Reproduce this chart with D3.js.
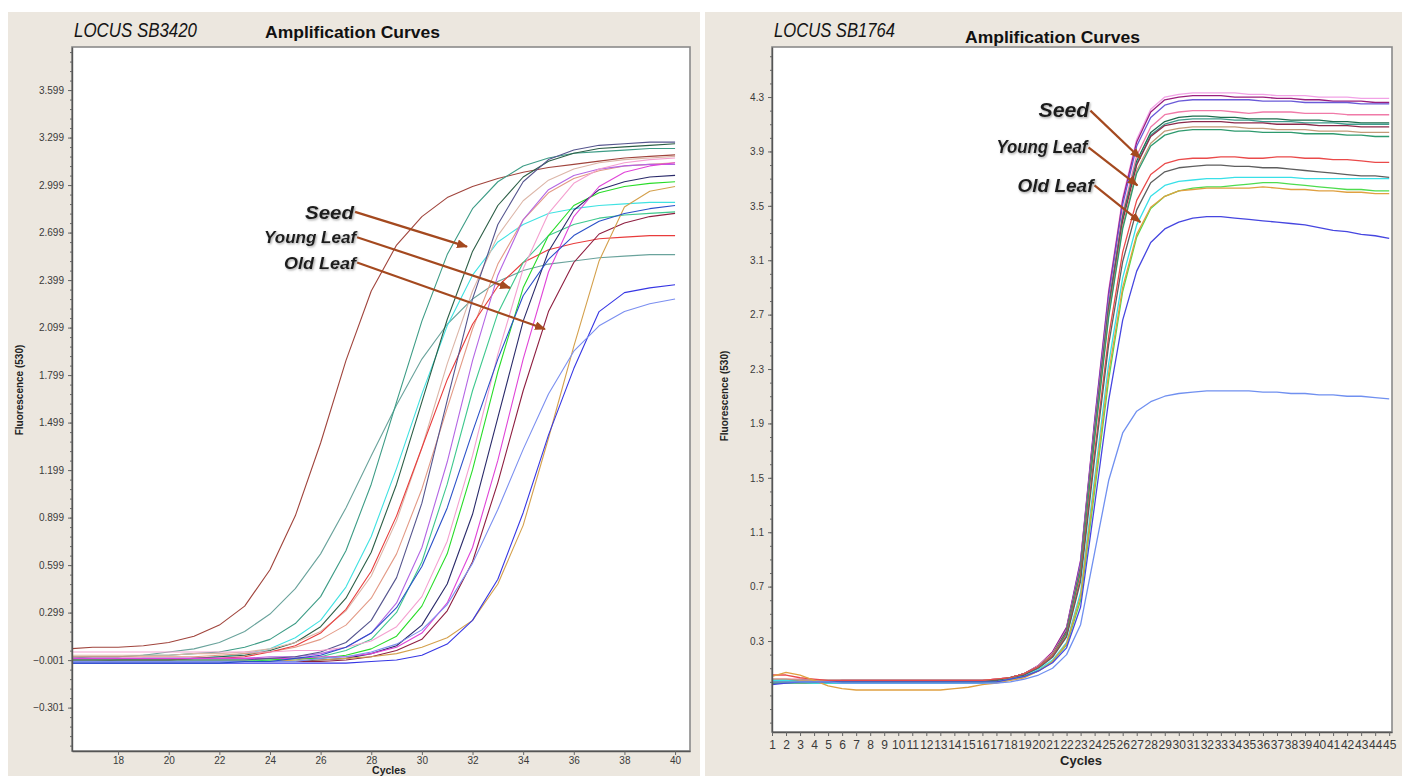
<!DOCTYPE html>
<html>
<head>
<meta charset="utf-8">
<script src="https://cdn.jsdelivr.net/npm/d3@7/dist/d3.min.js"></script>
<style>
  html, body { margin: 0; padding: 0; background: #ffffff; }
  svg { display: block; }
</style>
</head>
<body>
<svg id="chart" width="1402" height="776"></svg>
<script>
// ---------------------------------------------------------------
// Locus SB3420 – fluorescence (530) per cycle, cycles 16..40
// ---------------------------------------------------------------
const cyclesA = d3.range(16, 41);
const sb3420_01 = [.07,.08,.08,.09,.11,.15,.22,.34,.57,.91,1.37,1.89,2.33,2.62,2.80,2.92,2.99,3.04,3.08,3.11,3.13,3.15,3.17,3.18,3.19];
const sb3420_02 = [.01,.02,.02,.03,.05,.07,.11,.18,.29,.45,.67,.96,1.29,1.61,1.90,2.12,2.28,2.39,2.46,2.50,2.52,2.54,2.55,2.56,2.56];
const sb3420_03 = [.02,.02,.02,.03,.03,.04,.05,.08,.13,.23,.40,.69,1.11,1.63,2.14,2.56,2.85,3.02,3.12,3.17,3.20,3.21,3.22,3.23,3.23];
const sb3420_04 = [0,0,0,.01,.01,.01,.02,.04,.07,.14,.25,.46,.78,1.21,1.68,2.11,2.43,2.64,2.75,2.82,2.85,2.87,2.88,2.89,2.89];
const sb3420_05 = [-.01,-.01,0,0,0,.01,.02,.03,.06,.11,.21,.39,.68,1.11,1.63,2.15,2.58,2.87,3.05,3.15,3.20,3.23,3.24,3.25,3.26];
const sb3420_06 = [.03,.03,.03,.03,.03,.04,.04,.05,.07,.11,.18,.31,.53,.88,1.34,1.87,2.33,2.68,2.90,3.03,3.10,3.14,3.16,3.17,3.18];
const sb3420_07 = [.02,.02,.02,.02,.02,.02,.03,.04,.05,.08,.13,.22,.39,.67,1.08,1.59,2.09,2.50,2.78,2.95,3.04,3.09,3.12,3.13,3.14];
const sb3420_08 = [0,0,0,0,0,.01,.01,.02,.05,.09,.17,.32,.56,.91,1.34,1.77,2.12,2.36,2.51,2.59,2.63,2.66,2.67,2.68,2.68];
const sb3420_09 = [.01,.01,.01,.01,.01,.01,.01,.01,.02,.02,.04,.08,.17,.36,.71,1.25,1.89,2.43,2.78,2.97,3.06,3.10,3.12,3.13,3.13];
const sb3420_10 = [-.01,-.01,-.01,-.01,-.01,-.01,-.01,-.01,0,0,.02,.06,.13,.30,.62,1.11,1.70,2.19,2.51,2.68,2.75,2.79,2.81,2.82,2.83];
const sb3420_11 = [0,0,0,0,0,0,0,0,0,.01,.01,.03,.07,.15,.34,.67,1.20,1.82,2.35,2.68,2.87,2.95,2.99,3.01,3.02];
const sb3420_12 = [-.01,-.01,-.01,-.01,-.01,-.01,-.01,-.01,-.01,-.01,0,.01,.04,.09,.22,.48,.92,1.53,2.14,2.58,2.84,2.97,3.02,3.05,3.06];
const sb3420_13 = [.01,.01,.01,.01,.01,.01,.01,.01,.01,.01,.02,.02,.04,.08,.17,.36,.71,1.26,1.90,2.45,2.80,2.99,3.08,3.12,3.14];
const sb3420_14 = [-.01,-.01,-.01,-.01,-.01,-.01,-.01,-.01,-.01,-.01,-.01,0,.02,.06,.13,.31,.62,1.12,1.70,2.20,2.51,2.69,2.76,2.80,2.82];
const sb3420_15 = [-.01,-.01,-.01,-.01,-.01,-.01,-.01,-.01,-.01,0,0,.01,.02,.04,.08,.14,.25,.48,.85,1.40,1.98,2.52,2.86,2.96,2.99];
const sb3420_16 = [-.02,-.02,-.02,-.02,-.02,-.02,-.02,-.02,-.02,-.02,-.02,-.02,-.01,0,.03,.10,.25,.51,.93,1.42,1.84,2.20,2.32,2.35,2.37];
const sb3420_17 = [-.01,-.01,-.01,-.01,-.01,-.01,-.01,-.01,-.01,-.01,.01,.02,.05,.10,.19,.35,.61,.95,1.33,1.68,1.95,2.11,2.20,2.25,2.28];
const sb3420_18 = [0,0,0,0,0,0,0,0,.01,.02,.05,.11,.25,.52,.99,1.64,2.28,2.75,3.02,3.16,3.22,3.25,3.26,3.27,3.27];
const sb3420_19 = [.05,.05,.05,.05,.05,.05,.05,.05,.05,.06,.06,.08,.12,.21,.40,.75,1.29,1.93,2.47,2.82,3.01,3.10,3.14,3.16,3.17];
const sb3420_20 = [-.02,-.02,-.02,-.02,-.02,-.02,-.02,-.01,-.01,.01,.03,.08,.17,.33,.59,.96,1.44,1.90,2.30,2.53,2.68,2.77,2.82,2.85,2.87];

const seriesA = [sb3420_01, sb3420_02, sb3420_03, sb3420_04, sb3420_05, sb3420_06, sb3420_07,
                 sb3420_08, sb3420_09, sb3420_10, sb3420_11, sb3420_12, sb3420_13, sb3420_14,
                 sb3420_15, sb3420_16, sb3420_17, sb3420_18, sb3420_19, sb3420_20];
const coloursA = ["#a0443c", "#6aa39c", "#3d9c86", "#40e2e2", "#2c5e46", "#dcb6a8", "#e39a86",
                  "#e83c3c", "#b466e4", "#3ec88e", "#28dc28", "#2a2a6a", "#e044d8", "#8e1e40",
                  "#d4a04c", "#3636e4", "#7b8ff0", "#55558e", "#f4a0d0", "#2a50c8"];

const xTicksA = [18, 20, 22, 24, 26, 28, 30, 32, 34, 36, 38, 40];
const yTicksA = [-0.301, -0.001, 0.299, 0.599, 0.899, 1.199, 1.499, 1.799, 2.099, 2.399, 2.699, 2.999, 3.299, 3.599];

const notesA = ["Seed", "Young Leaf", "Old Leaf"];
const notesAFrom = [[27.36, 2.83], [27.44, 2.67], [27.44, 2.51]];   // [cycle, fluorescence]
const notesATo   = [[31.78, 2.61], [33.48, 2.35], [34.86, 2.09]];

// ---------------------------------------------------------------
// Locus SB1764 – fluorescence (530) per cycle, cycles 1..45
// ---------------------------------------------------------------
const cyclesB = d3.range(1, 46);
const sb1764_01 = [.01,.01,.01,.01,.01,.01,.01,.01,.01,.01,.01,.01,.01,.01,.01,.01,
  .02,.03,.06,.12,.22,.40,.90,1.93,2.88,3.56,3.99,4.21,4.30,
  4.32,4.33,4.33,4.33,4.33,4.32,4.32,4.31,4.31,4.31,4.30,4.30,4.30,4.29,4.29,4.29];
const sb1764_02 = [-.01,0,0,0,0,.01,.01,.01,.01,.01,.01,.01,.01,.01,.01,.01,
  .02,.03,.06,.12,.22,.40,.89,1.92,2.86,3.54,3.97,4.19,4.28,
  4.30,4.31,4.31,4.31,4.30,4.30,4.30,4.29,4.29,4.28,4.28,4.27,4.27,4.27,4.26,4.26];
const sb1764_03 = [0,0,0,0,0,0,0,0,0,0,0,0,0,0,0,0,
  .01,.03,.06,.12,.21,.39,.88,1.90,2.83,3.51,3.94,4.15,4.24,
  4.27,4.28,4.28,4.28,4.28,4.28,4.27,4.27,4.27,4.26,4.26,4.26,4.26,4.25,4.25,4.25];
const sb1764_04 = [.02,.02,.02,.01,.01,.01,.01,.01,.01,.01,.01,.01,.01,.01,.01,.01,
  .02,.03,.06,.12,.21,.38,.85,1.86,2.78,3.45,3.87,4.08,4.17,
  4.19,4.20,4.20,4.20,4.19,4.18,4.19,4.19,4.19,4.18,4.18,4.18,4.17,4.17,4.17,4.17];
const sb1764_05 = [0,0,0,0,0,0,0,0,0,0,0,0,0,0,0,0,
  .01,.03,.06,.11,.20,.37,.84,1.84,2.76,3.42,3.83,4.04,4.12,
  4.15,4.16,4.16,4.15,4.15,4.14,4.14,4.14,4.13,4.13,4.13,4.12,4.12,4.11,4.11,4.11];
const sb1764_06 = [.01,.01,.01,.01,.01,.01,.01,.01,.01,.01,.01,.01,.01,.01,.01,.01,
  .01,.03,.06,.11,.20,.37,.83,1.83,2.74,3.40,3.81,4.02,4.10,
  4.13,4.14,4.14,4.14,4.13,4.13,4.12,4.12,4.12,4.11,4.11,4.11,4.10,4.10,4.10,4.10];
const sb1764_07 = [0,0,0,0,0,0,0,0,0,0,0,0,0,0,0,0,
  .01,.03,.06,.11,.20,.37,.83,1.82,2.73,3.39,3.80,4.01,4.09,
  4.11,4.12,4.12,4.12,4.11,4.11,4.11,4.10,4.10,4.10,4.09,4.09,4.09,4.08,4.08,4.08];
const sb1764_08 = [.02,.02,.01,.01,.01,.01,.01,.01,.01,.01,.01,.01,.01,.01,.01,.01,
  .02,.03,.06,.11,.20,.36,.82,1.80,2.70,3.35,3.76,3.96,4.05,
  4.07,4.08,4.08,4.08,4.08,4.07,4.07,4.06,4.06,4.06,4.05,4.05,4.05,4.04,4.04,4.04];
const sb1764_09 = [-.01,-.01,-.01,-.01,-.01,-.01,-.01,-.01,-.01,-.01,-.01,-.01,-.01,-.01,-.01,-.01,
  .01,.03,.05,.11,.19,.36,.81,1.79,2.68,3.33,3.74,3.94,4.02,
  4.05,4.06,4.06,4.06,4.05,4.05,4.04,4.04,4.04,4.03,4.03,4.03,4.02,4.02,4.01,4.01];
const sb1764_10 = [.05,.05,.03,.02,.01,.01,.01,.01,.01,.01,.01,.01,.01,.01,.01,.01,
  .02,.03,.06,.11,.19,.34,.77,1.69,2.54,3.16,3.54,3.73,3.81,
  3.84,3.85,3.85,3.86,3.86,3.85,3.85,3.86,3.86,3.85,3.85,3.84,3.84,3.83,3.82,3.82];
const sb1764_11 = [0,0,0,0,0,0,0,0,0,0,0,0,0,0,0,0,
  .01,.02,.05,.10,.18,.33,.74,1.64,2.48,3.09,3.47,3.67,3.75,
  3.78,3.79,3.80,3.80,3.79,3.79,3.78,3.78,3.77,3.76,3.75,3.74,3.73,3.72,3.72,3.71];
const sb1764_12 = [.01,.01,0,-.01,-.01,-.01,-.01,-.01,-.01,-.01,-.01,-.01,-.01,-.01,-.01,-.01,
  0,.02,.04,.09,.16,.29,.66,1.50,2.34,2.97,3.36,3.57,3.65,
  3.68,3.69,3.70,3.70,3.71,3.71,3.71,3.71,3.71,3.70,3.70,3.70,3.70,3.70,3.70,3.70];
const sb1764_13 = [0,0,0,0,0,0,0,0,0,0,0,0,0,0,0,0,
  0,.02,.04,.08,.15,.27,.60,1.40,2.22,2.87,3.27,3.48,3.57,
  3.61,3.63,3.64,3.64,3.65,3.66,3.67,3.67,3.66,3.65,3.64,3.63,3.62,3.62,3.61,3.61];
const sb1764_14 = [.04,.07,.05,.01,-.03,-.05,-.06,-.06,-.06,-.06,-.06,-.06,-.06,-.05,-.04,-.02,
  -.01,.01,.03,.08,.15,.28,.63,1.45,2.27,2.90,3.29,3.49,3.57,
  3.61,3.62,3.63,3.63,3.63,3.63,3.64,3.63,3.62,3.62,3.61,3.61,3.60,3.60,3.59,3.59];
const sb1764_15 = [-.02,-.01,0,0,0,0,0,0,0,0,0,0,0,0,0,0,
  0,.02,.04,.08,.14,.25,.55,1.30,2.07,2.66,3.02,3.23,3.33,
  3.38,3.41,3.42,3.42,3.41,3.40,3.39,3.38,3.37,3.36,3.34,3.32,3.31,3.29,3.28,3.26];
const sb1764_16 = [0,0,0,0,0,-.01,-.01,-.01,-.01,-.01,-.01,-.01,-.01,-.01,-.01,-.01,
  -.01,0,.02,.05,.10,.20,.42,.95,1.48,1.83,1.99,2.06,2.10,
  2.12,2.13,2.14,2.14,2.14,2.14,2.13,2.13,2.12,2.12,2.11,2.11,2.10,2.10,2.09,2.08];

const seriesB = [sb1764_01, sb1764_02, sb1764_03, sb1764_04, sb1764_05, sb1764_06, sb1764_07, sb1764_08,
                 sb1764_09, sb1764_10, sb1764_11, sb1764_12, sb1764_13, sb1764_14, sb1764_15, sb1764_16];
const coloursB = ["#f2a2e6", "#9a1e7e", "#6a5ad8", "#f07aa8", "#1e6e4e", "#3f9c8c", "#8c2a4a", "#c49a78",
                  "#2e9a6e", "#ea4a4a", "#5e5e5e", "#38e0e8", "#4edc4e", "#e0a040", "#4646e0", "#7090f0"];

const xTicksB = d3.range(1, 46);
const yTicksB = [0.3, 0.7, 1.1, 1.5, 1.9, 2.3, 2.7, 3.1, 3.5, 3.9, 4.3];

const notesB = ["Seed", "Young Leaf", "Old Leaf"];
const notesBFrom = [[23.70, 4.20], [23.56, 3.93], [23.99, 3.65]];
const notesBTo   = [[27.26, 3.85], [27.05, 3.65], [27.26, 3.38]];

// ---------------------------------------------------------------
const SANS = "'Liberation Sans', Arial, sans-serif";
const NARROW = "'Liberation Sans Narrow', 'Arial Narrow', 'Liberation Sans', sans-serif";
const PANEL_BG = "#ece7df";
const ARROW = "#a4491f";

const svg = d3.select("#chart");
const defs = svg.append("defs");

defs.append("marker")
  .attr("id", "arrowhead")
  .attr("viewBox", "0 0 10 8")
  .attr("refX", 9).attr("refY", 4)
  .attr("markerWidth", 11).attr("markerHeight", 9)
  .attr("markerUnits", "userSpaceOnUse")
  .attr("orient", "auto")
  .append("path").attr("d", "M0,0 L10,4 L0,8 Z").attr("fill", ARROW);

const shadow = defs.append("filter").attr("id", "soft").attr("x", "-10%").attr("y", "-30%")
  .attr("width", "130%").attr("height", "170%");
shadow.append("feDropShadow").attr("dx", 1).attr("dy", 1.2)
  .attr("stdDeviation", 0.9).attr("flood-color", "#777").attr("flood-opacity", 0.7);

// panel backgrounds
svg.append("rect").attr("x", 8).attr("y", 12).attr("width", 692).attr("height", 764).attr("fill", PANEL_BG);
svg.append("rect").attr("x", 705).attr("y", 12).attr("width", 697).attr("height", 764).attr("fill", PANEL_BG);

function drawPanel(p) {
  const g = svg.append("g");
  const x = d3.scaleLinear().domain(p.xDomain).range([p.left, p.right]);
  const y = d3.scaleLinear().domain(p.yDomain).range([p.bottom, p.top]);

  // titles
  g.append("text").attr("x", p.left + 2).attr("y", p.titleY)
    .attr("font-family", NARROW).attr("font-style", "italic").attr("font-size", 20)
    .attr("fill", "#151515").attr("textLength", p.locusWidth).attr("lengthAdjust", "spacingAndGlyphs")
    .text(p.locus);
  g.append("text").attr("x", p.subX).attr("y", p.subY)
    .attr("font-family", NARROW).attr("font-weight", "bold").attr("font-size", 16)
    .attr("fill", "#111").attr("textLength", 175).attr("lengthAdjust", "spacingAndGlyphs")
    .text("Amplification Curves");

  // plot area
  g.append("rect").attr("x", p.left).attr("y", p.top)
    .attr("width", p.right - p.left).attr("height", p.bottom - p.top).attr("fill", "#ffffff");

  const clipId = "clip-" + p.id;
  defs.append("clipPath").attr("id", clipId).append("rect")
    .attr("x", p.left).attr("y", p.top).attr("width", p.right - p.left).attr("height", p.bottom - p.top);

  const line = d3.line().x((d, i) => x(p.cycles[i])).y(d => y(d));
  g.append("g").attr("clip-path", `url(#${clipId})`)
    .selectAll("path").data(p.series).join("path")
    .attr("d", d => line(d))
    .attr("fill", "none")
    .attr("stroke", (d, i) => p.colours[i])
    .attr("stroke-width", p.lineWidth)
    .attr("stroke-linejoin", "round");

  // frame
  g.append("rect").attr("x", p.left).attr("y", p.top)
    .attr("width", p.right - p.left).attr("height", p.bottom - p.top)
    .attr("fill", "none").attr("stroke", "#8a8a8a").attr("stroke-width", 1.6);

  // y axis (major + minor ticks)
  const yAxis = g.append("g").attr("transform", `translate(${p.left},0)`)
    .call(d3.axisLeft(y).tickValues(p.yTicks).tickFormat(p.yFormat).tickSize(4).tickSizeOuter(0));
  g.append("g").attr("transform", `translate(${p.left},0)`)
    .call(d3.axisLeft(y).tickValues(p.yMinor).tickFormat("").tickSize(2).tickSizeOuter(0))
    .call(a => a.select(".domain").remove());
  yAxis.select(".domain").attr("stroke", "#555").attr("stroke-width", 1.4);

  // x axis
  const xAxis = g.append("g").attr("transform", `translate(0,${p.bottom})`)
    .call(d3.axisBottom(x).tickValues(p.xTicks).tickFormat(d3.format("d")).tickSize(4).tickSizeOuter(0));
  xAxis.select(".domain").attr("stroke", "#555").attr("stroke-width", 1.4);

  g.selectAll(".tick line").attr("stroke", "#666");
  yAxis.selectAll("text").attr("font-family", SANS).attr("font-size", 10).attr("fill", "#3a3a3a").attr("dx", -1);
  xAxis.selectAll("text").attr("font-family", p.xFont).attr("font-size", p.xFontSize)
    .attr("fill", "#3a3a3a").attr("dy", p.xLabelDy);

  // axis titles
  g.append("text")
    .attr("transform", `translate(${p.yTitleX},${p.yTitleY}) rotate(-90)`)
    .attr("text-anchor", "middle").attr("font-family", SANS).attr("font-weight", "bold")
    .attr("font-size", 10).attr("fill", "#222").text("Fluorescence (530)");
  g.append("text").attr("x", p.xTitleX).attr("y", p.xTitleY)
    .attr("text-anchor", "middle").attr("font-family", NARROW).attr("font-weight", "bold")
    .attr("font-size", p.xTitleSize).attr("fill", "#222").text("Cycles");

  // annotations
  p.notes.forEach((label, i) => {
    const [c0, v0] = p.notesFrom[i];
    const [c1, v1] = p.notesTo[i];
    g.append("line")
      .attr("x1", x(c0)).attr("y1", y(v0)).attr("x2", x(c1)).attr("y2", y(v1))
      .attr("stroke", ARROW).attr("stroke-width", 2.2).attr("marker-end", "url(#arrowhead)");
    g.append("text")
      .attr("x", x(c0) - 1).attr("y", y(v0) + p.noteDy[i])
      .attr("text-anchor", "end")
      .attr("font-family", SANS).attr("font-weight", "bold").attr("font-style", "italic")
      .attr("font-size", p.noteSize[i]).attr("fill", "#1c1c1c")
      .attr("textLength", p.noteWidth[i]).attr("lengthAdjust", "spacingAndGlyphs")
      .attr("filter", "url(#soft)")
      .text(label);
  });
}

drawPanel({
  id: "a", locus: "LOCUS SB3420", locusWidth: 123, titleY: 37, subX: 265, subY: 38,
  left: 72, right: 690, top: 47, bottom: 751,
  xDomain: [16.18, 40.59], yDomain: [-0.575, 3.871],
  cycles: cyclesA, series: seriesA, colours: coloursA, lineWidth: 1.1,
  xTicks: xTicksA, yTicks: yTicksA, yMinor: d3.range(-0.541, 3.87, 0.06),
  yFormat: d3.format(".3f"), xFont: SANS, xFontSize: 10, xLabelDy: "0.62em",
  yTitleX: 23, yTitleY: 390, xTitleX: 389, xTitleY: 773.5, xTitleSize: 10.5,
  notes: notesA, notesFrom: notesAFrom, notesTo: notesATo,
  noteDy: [7, 6, 6], noteSize: [19, 16, 17], noteWidth: [49, 92, 72]
});

drawPanel({
  id: "b", locus: "LOCUS SB1764", locusWidth: 121, titleY: 37, subX: 965, subY: 43,
  left: 772, right: 1392, top: 47, bottom: 732,
  xDomain: [1, 45.2], yDomain: [-0.369, 4.668],
  cycles: cyclesB, series: seriesB, colours: coloursB, lineWidth: 1.3,
  xTicks: xTicksB, yTicks: yTicksB, yMinor: d3.range(-0.3, 4.65, 0.1),
  yFormat: d3.format(".1f"), xFont: NARROW, xFontSize: 12, xLabelDy: "0.8em",
  yTitleX: 728, yTitleY: 396, xTitleX: 1081, xTitleY: 765, xTitleSize: 13,
  notes: notesB, notesFrom: notesBFrom, notesTo: notesBTo,
  noteDy: [6, 6, 7], noteSize: [20, 18, 18], noteWidth: [51, 91, 76]
});
</script>
</body>
</html>
